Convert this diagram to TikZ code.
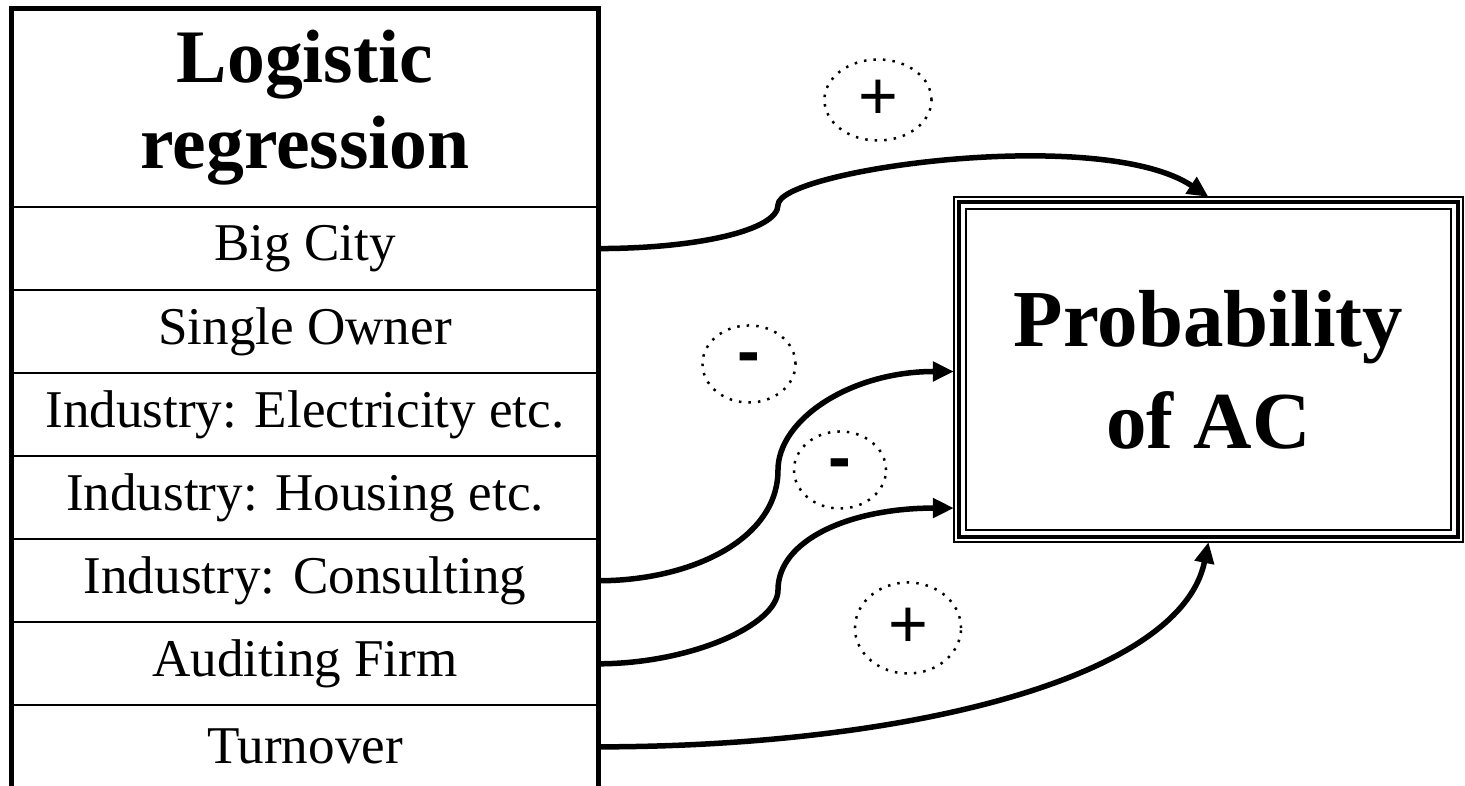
\documentclass[tikz,border=0pt]{standalone}
\usepackage{fontspec}
\setmainfont{Liberation Serif}
\newfontfamily\signfont{Liberation Sans}
\usetikzlibrary{positioning,arrows.meta,shapes.geometric}

\begin{document}
\begin{tikzpicture}[x=0.01cm,y=-0.01cm,
    headbox/.style={rectangle,draw,line width=0.02cm,minimum width=5.86cm,minimum height=1.98cm,
        inner sep=0pt,outer sep=0pt,align=center,font=\fontsize{21.5}{24.5}\selectfont\bfseries},
    rowbox/.style={rectangle,draw,line width=0.02cm,minimum width=5.86cm,minimum height=0.83cm,
        inner sep=0pt,outer sep=0pt,font=\fontsize{15.1}{18}\selectfont},
    outcome/.style={rectangle,draw,line width=0.018cm,minimum width=5.09cm,minimum height=3.45cm,
        inner sep=0pt,outer sep=0pt,align=center,font=\fontsize{23}{29}\selectfont\bfseries},
    sign/.style={ellipse,draw,dotted,line width=0.025cm,inner sep=0pt,font=\signfont\fontsize{19.4}{20}\selectfont},
    flow/.style={line width=0.055cm,-{Triangle[length=0.21cm,width=0.19cm]}}]
    \useasboundingbox (0,0) rectangle (1465,786);

    %NODE
    \node[headbox] (head) at (305,108) {Logistic\\regression};
    \node[rowbox,below=0pt of head] (r1) {Big City};
    \node[rowbox,below=0pt of r1] (r2) {Single Owner};
    \node[rowbox,below=0pt of r2] (r3) {Industry: Electricity etc.};
    \node[rowbox,below=0pt of r3] (r4) {Industry: Housing etc.};
    \node[rowbox,below=0pt of r4] (r5) {Industry: Consulting};
    \node[rowbox,below=0pt of r5] (r6) {Auditing Firm};
    \node[rowbox,below=0pt of r6] (r7) {Turnover};
    \draw[line width=0.05cm] (r7.south west) -- (head.north west) -- (head.north east) -- (r7.south east);

    \node[outcome] (prob) at (1208.5,369.5) {Probability\\of AC};
    \draw[line width=0.04cm] ([shift={(5.5,5.5)}]prob.north west) rectangle ([shift={(-5.5,-5.5)}]prob.south east);
    \draw[line width=0.018cm] ([shift={(12,12)}]prob.north west) rectangle ([shift={(-12,-12)}]prob.south east);

    \node[sign,minimum width=1.07cm,minimum height=0.81cm] (p1) at (878,100) {+};
    \node[sign,minimum width=0.93cm,minimum height=0.77cm] (m1) at (749,364) {\bfseries -};
    \node[sign,minimum width=0.92cm,minimum height=0.77cm] (m2) at (840,470) {\bfseries -};
    \node[sign,minimum width=1.06cm,minimum height=0.91cm] (p2) at (908,628) {+};

    \coordinate (k1) at (778,205);
    \coordinate (k5) at (778,470);
    \coordinate (k6) at (778,590);

    %EDGE
    \draw[flow] (r1.east) .. controls +(100,0) and +(0,25) .. (k1)
        .. controls +(0,-35) and +(-108,-72) .. (prob.north);
    \draw[flow] (r5.east) .. controls +(92,0) and +(0,70) .. (k5)
        .. controls +(0,-50) and +(-104,0) .. ([yshift=-0.02cm]prob.west);
    \draw[flow] (r6.east) .. controls +(92,0) and +(0,35) .. (k6)
        .. controls +(0,-50) and +(-104,0) .. ([yshift=0.34cm]prob.south west);
    \draw[flow] (r7.east) .. controls +(302,0) and +(-28,138) .. (prob.south);
\end{tikzpicture}
\end{document}
